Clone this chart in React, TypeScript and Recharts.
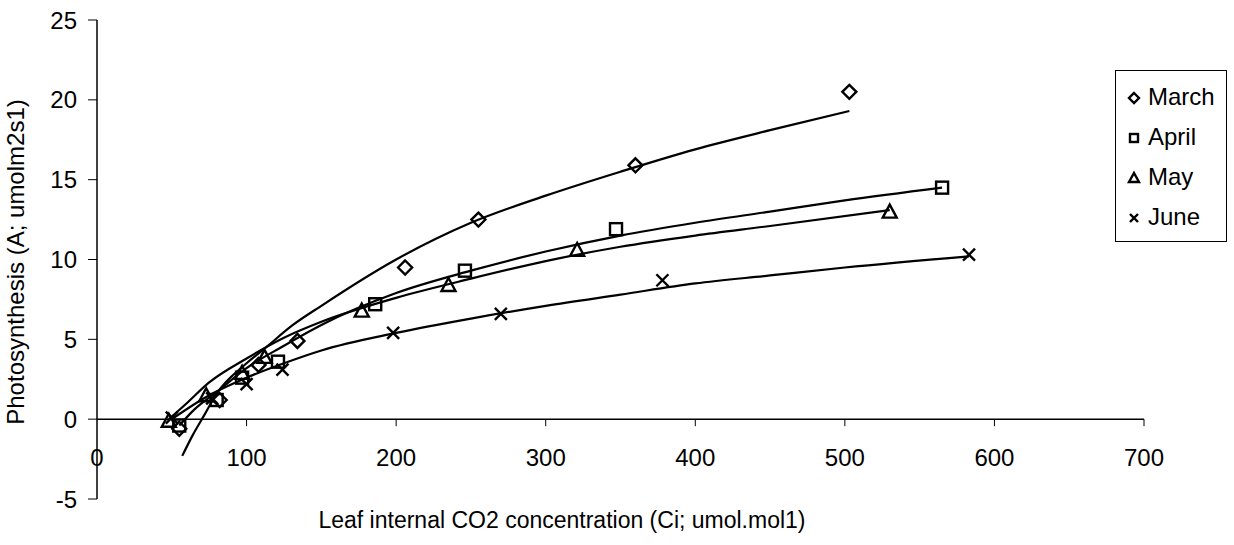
import React from 'react';
import { ComposedChart, Line, Scatter, XAxis, YAxis, ReferenceLine, Legend, Label } from 'recharts';

// measured points (Ci, A) per month
const marchCi = [55, 82, 108, 134, 206, 255, 360, 503];
const marchA = [-0.6, 1.2, 3.4, 4.9, 9.5, 12.5, 15.9, 20.5];
const aprilCi = [55, 80, 97, 121, 186, 246, 347, 565];
const aprilA = [-0.4, 1.2, 2.6, 3.6, 7.2, 9.3, 11.9, 14.5];
const mayCi = [48, 73, 97, 112, 177, 235, 321, 530];
const mayA = [-0.1, 1.5, 2.9, 3.9, 6.8, 8.4, 10.6, 13.0];
const juneCi = [50, 77, 100, 124, 198, 270, 378, 583];
const juneA = [0.1, 1.3, 2.2, 3.1, 5.4, 6.6, 8.7, 10.3];

// trend lines
const marchFitCi = [57, 64, 72, 80, 100, 113, 131, 150, 200, 250, 300, 350, 400, 450, 503];
const marchFitA = [-2.3, -1.0, 0.3, 1.6, 3.5, 4.5, 5.9, 7.1, 10.0, 12.3, 14.0, 15.5, 16.9, 18.1, 19.3];
const aprilFitCi = [55, 65, 80, 100, 125, 150, 200, 250, 300, 350, 400, 450, 500, 565];
const aprilFitA = [-0.4, 0.6, 1.7, 3.2, 4.6, 5.9, 7.9, 9.3, 10.5, 11.5, 12.3, 13.0, 13.7, 14.5];
const mayFitCi = [48, 60, 75, 100, 125, 150, 200, 250, 300, 350, 400, 450, 530];
const mayFitA = [0.0, 1.0, 2.3, 3.8, 5.1, 6.1, 7.6, 8.8, 9.9, 10.8, 11.5, 12.1, 13.1];
const juneFitCi = [50, 75, 100, 125, 150, 200, 250, 300, 350, 400, 450, 500, 583];
const juneFitA = [0.0, 1.5, 2.6, 3.5, 4.3, 5.4, 6.3, 7.1, 7.8, 8.5, 9.0, 9.5, 10.2];

const xTicks = [0, 100, 200, 300, 400, 500, 600, 700];
const yTicks = [-5, 0, 5, 10, 15, 20, 25];
const monthNames = ['March', 'April', 'May', 'June'];

const FONT = '"Liberation Sans", Arial, sans-serif';
const PLOT_TOP = 20;
const PLOT_H = 479;
const ZERO_Y = PLOT_TOP + PLOT_H * 25 / 30;

const toPoints = (xs: number[], ys: number[]) => xs.map((x, i) => ({ x, y: ys[i] }));

const Marker = ({ kind, cx, cy, r = 7 }: { kind: string; cx: number; cy: number; r?: number }) => {
  const s = { fill: 'none', stroke: '#000', strokeWidth: 2.4 };
  const q = r - 1;
  if (kind === 'March')
    return <polygon points={`${cx},${cy - r} ${cx + r},${cy} ${cx},${cy + r} ${cx - r},${cy}`} {...s} />;
  if (kind === 'April') return <rect x={cx - q} y={cy - q} width={2 * q} height={2 * q} {...s} />;
  if (kind === 'May')
    return <polygon points={`${cx},${cy - r} ${cx + r},${cy + q} ${cx - r},${cy + q}`} {...s} />;
  return (
    <g {...s}>
      <line x1={cx - q} y1={cy - q} x2={cx + q} y2={cy + q} />
      <line x1={cx - q} y1={cy + q} x2={cx + q} y2={cy - q} />
    </g>
  );
};

const XTick = (props: any) => {
  const { x, payload } = props;
  return (
    <g>
      {payload.value !== 0 && <line x1={x} x2={x} y1={ZERO_Y} y2={ZERO_Y + 7} stroke="#000" />}
      <text x={x} y={ZERO_Y + 47} textAnchor="middle" fontSize={24} fill="#000" fontFamily={FONT}>
        {payload.value}
      </text>
    </g>
  );
};

const renderLegend = () => (
  <div style={{ border: '1px solid #000', width: 112, height: 172, background: '#fff', fontFamily: FONT, fontSize: 24, boxSizing: 'border-box', paddingTop: 6 }}>
    {monthNames.map(m => (
      <div key={m} style={{ display: 'flex', alignItems: 'center', height: 40 }}>
        <svg width={32} height={20}>
          <Marker kind={m} cx={18} cy={11} r={5} />
        </svg>
        <span>{m}</span>
      </div>
    ))}
  </div>
);

export default function App() {
  const series = [
    { name: 'March', pts: toPoints(marchCi, marchA), fit: toPoints(marchFitCi, marchFitA) },
    { name: 'April', pts: toPoints(aprilCi, aprilA), fit: toPoints(aprilFitCi, aprilFitA) },
    { name: 'May', pts: toPoints(mayCi, mayA), fit: toPoints(mayFitCi, mayFitA) },
    { name: 'June', pts: toPoints(juneCi, juneA), fit: toPoints(juneFitCi, juneFitA) },
  ];
  return (
    <div style={{ position: 'absolute', left: 0, top: 0, background: '#fff', fontFamily: FONT }}>
      <ComposedChart width={1234} height={545} margin={{ top: PLOT_TOP, right: 90, bottom: 0, left: 0 }}>
        <XAxis type="number" dataKey="x" domain={[0, 700]} ticks={xTicks} axisLine={false} tickLine={false}
          height={46} tick={<XTick />} interval={0}>
          <Label content={() => (
            <text x={562} y={528} textAnchor="middle" fontSize={23} fontFamily={FONT} fill="#000">
              Leaf internal CO2 concentration (Ci; umol.mol1)
            </text>
          )} />
        </XAxis>
        <YAxis type="number" domain={[-5, 25]} ticks={yTicks} width={97} interval={0}
          axisLine={{ stroke: '#000', strokeWidth: 1.5 }} tickLine={{ stroke: '#000' }} tickSize={9} tickMargin={11}
          tick={{ fill: '#000', fontSize: 24, fontFamily: FONT }}>
          <Label content={() => (
            <text x={24} y={262} transform="rotate(-90 24 262)" textAnchor="middle" fontSize={24} fontFamily={FONT} fill="#000">
              Photosynthesis (A; umolm2s1)
            </text>
          )} />
        </YAxis>
        <ReferenceLine y={0} stroke="#000" strokeWidth={1.5} />
        {series.map(s => (
          <Line key={s.name + '-fit'} data={s.fit} dataKey="y" type="monotone" stroke="#000" strokeWidth={2.2}
            dot={false} activeDot={false} legendType="none" isAnimationActive={false} />
        ))}
        {series.map(s => (
          <Scatter key={s.name} name={s.name} data={s.pts} dataKey="y" isAnimationActive={false}
            shape={(p: any) => <Marker kind={s.name} cx={p.cx} cy={p.cy} />} />
        ))}
        <Legend layout="vertical" align="center" verticalAlign="middle" content={renderLegend}
          wrapperStyle={{ left: 1115, top: 70, width: 112 }} />
      </ComposedChart>
    </div>
  );
}
